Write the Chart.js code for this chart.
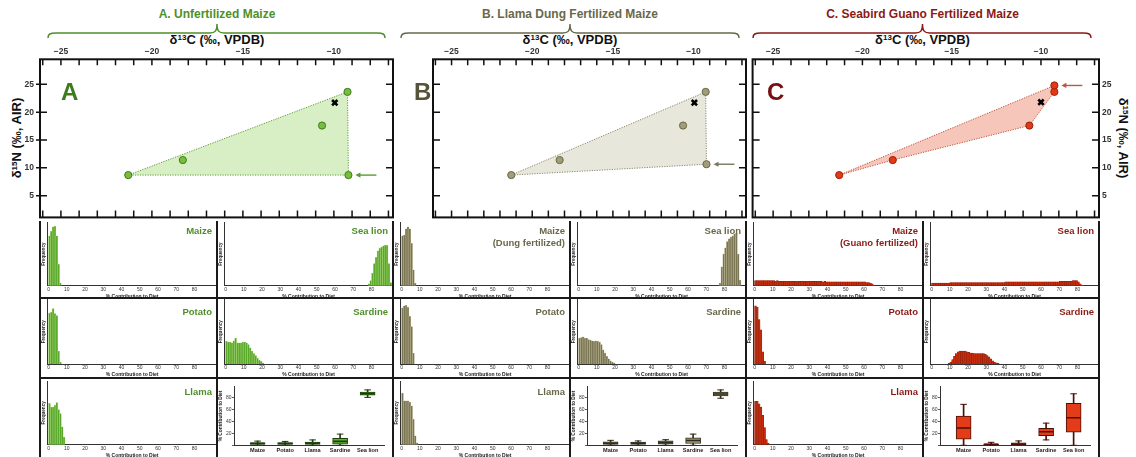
<!DOCTYPE html>
<html lang="en">
<head>
<meta charset="UTF-8">
<title>Mixing models: unfertilized, dung and guano fertilized maize</title>
<script src="https://cdn.jsdelivr.net/npm/chart.js@4.4.1/dist/chart.umd.min.js"></script>
<style>
  body { margin: 0; background: #fff; font-family: "Liberation Sans", Arial, sans-serif; }
  #fig { position: relative; width: 1136px; height: 457px; overflow: hidden; }
  #fig canvas, #fig .t, #fig .rule, #fig svg { position: absolute; }
  .t { white-space: nowrap; font-weight: bold; }
  .hdr { font-size: 12px; line-height: 14px; top: 7px; transform: translateX(-50%); }
  .axt { font-size: 13px; line-height: 14px; top: 33px; transform: translateX(-50%); color: #111; }
  .axt sup, .yt sup { font-size: 8px; vertical-align: 4px; line-height: 0; }
  .yt { font-size: 13px; line-height: 14px; color: #111; }
  .big { font-size: 24px; line-height: 24px; top: 80px; }
  .lab { font-size: 9.5px; line-height: 12px; text-align: right; }
  .rule { background: #1a1a1a; }
</style>
</head>
<body>
<div id="fig"></div>
<script>
// ---- isotope space (top row) ----
// sources in order: Potato, Llama, Sardine, Sea lion (identical in A, B, C)
const sourceNames = ['Potato', 'Llama', 'Sardine', 'Sea lion'];
const sourceD13C = [-21.3, -18.3, -10.65, -9.25];
const sourceD15N = [8.7, 11.4, 17.6, 23.65];
// maize end-member: A unfertilized, B llama dung, C seabird guano
const maizeD13C = [-9.2, -9.2, -9.25];
const maizeD15N = [8.7, 10.65, 24.8];
// consumer (black cross)
const consumerD13C = [-9.95, -9.95, -10.0];
const consumerD15N = [21.7, 21.7, 21.8];
// mixing polygon vertices, index into [Potato, Llama, Sardine, Sea lion, Maize]
const hullA = [0, 3, 4];
const hullB = [0, 3, 4];
const hullC = [0, 4, 3, 2, 1];
const d13CLabels = [-25, -20, -15, -10];

// ---- posterior histograms (1 % bins, relative frequency) ----
const histA_maize = [79, 86, 93, 94, 79, 34, 4];
const histA_potato = [79, 80, 86, 78, 75, 20, 3];
const histA_llama = [65, 59, 59, 62, 66, 55, 49, 28, 12];
const histA_sealion = [3, 8, 20, 35, 45, 55, 59, 61, 63, 64, 64, 35, 5];
const histA_sealionFrom = 78;
const histA_sardine = [35, 34, 34, 33, 36, 40, 33, 33, 33, 34, 34, 33, 30, 25, 20, 16, 13, 9, 6, 4, 2];

const histB_maize = [79, 80, 90, 93, 90, 67, 25, 4];
const histB_potato = [87, 90, 91, 88, 74, 58, 17];
const histB_llama = [81, 69, 69, 69, 67, 61, 40, 14, 3];
const histB_sealion = [4, 30, 50, 60, 70, 74, 77, 79, 82, 83, 50, 9];
const histB_sealionFrom = 77;
const histB_sardine = [40, 41, 42, 40, 40, 38, 37, 36, 35, 36, 35, 34, 30, 22, 17, 12, 8, 5, 3, 2];

const histC_maize = [8, 8, 8, 8, 8, 8, 8, 8, 8, 8, 8, 7, 8, 7, 7, 7, 7, 7, 7, 7,
  7, 7, 7, 7, 7, 7, 7, 7, 7, 7, 7, 7, 7, 7, 7, 7, 7, 6, 7, 6,
  6, 6, 6, 6, 6, 6, 6, 6, 6, 6, 6, 6, 6, 6, 6, 6, 6, 6, 6, 6,
  6, 5, 5, 4, 3, 1];
const histC_potato = [90, 88, 69, 53, 19, 4];
const histC_llama = [68, 68, 64, 59, 46, 27, 8, 2];
const histC_sealion = [4, 4, 4, 4, 4, 4, 4, 4, 4, 4, 5, 5, 5, 5, 5, 5, 5, 5, 5, 5,
  5, 5, 5, 5, 5, 5, 5, 5, 5, 5, 5, 5, 5, 5, 5, 5, 5, 5, 5, 5,
  6, 6, 6, 6, 6, 6, 6, 6, 6, 6, 6, 6, 6, 6, 6, 6, 6, 6, 6, 6,
  6, 6, 6, 6, 6, 6, 6, 6, 6, 6, 7, 7, 7, 7, 7, 7, 7, 8, 8, 8,
  6, 3, 1];
const histC_sealionFrom = 0;
const histC_sardine = [1, 3, 7, 12, 16, 19, 20, 20, 20, 20, 19, 18, 17, 17, 16, 16, 16, 16, 16, 16,
  15, 13, 11, 8, 5, 3, 2, 1];
const histC_sardineFrom = 9;

// ---- box plots (% contribution) ----
const boxCats = ['Maize', 'Potato', 'Llama', 'Sardine', 'Sea lion'];
const boxA_min = [0, 0, 0, 0, 80];
const boxA_q1 = [1.5, 1.5, 1.5, 2, 83.6];
const boxA_med = [3, 3, 3.5, 6.5, 86];
const boxA_q3 = [4.5, 4.5, 5.5, 11.5, 88.9];
const boxA_max = [7, 6.5, 9, 18.7, 92.5];
const boxB_min = [0, 0, 0, 0, 78.5];
const boxB_q1 = [1.5, 1.5, 2, 3, 82.6];
const boxB_med = [3.5, 3.3, 4.5, 8, 85.7];
const boxB_q3 = [5.7, 5.2, 7.3, 12.5, 88.8];
const boxB_max = [8.3, 7.3, 9.4, 18.7, 92.5];
const boxC_min = [0, 0, 0, 9, 0];
const boxC_q1 = [10.4, 0.3, 0.5, 16.2, 22];
const boxC_med = [29, 1.5, 2, 22.5, 46];
const boxC_q3 = [48.6, 2.6, 4, 28.2, 70];
const boxC_max = [68.4, 5, 7.3, 37, 86];

// ---------------------------------------------------------------
const fig = document.getElementById('fig');
Chart.defaults.font.family = '"Liberation Sans", Arial, sans-serif';
Chart.defaults.color = '#222';

const looks = [
  { title: 'A. Unfertilized Maize', letter: 'A', maize: 'Maize', ink: '#4f8f2a', letterInk: '#3f7a1f',
    pt: '#78be3e', ptEdge: '#3f7a1a', fill: 'rgba(190,228,160,0.6)', edge: '#5d9b36', arrow: '#5a9a35',
    bar: '#5aa82a', barEdge: '#a6d777', box: '#5cb82e', boxEdge: '#1d3d0b' },
  { title: 'B. Llama Dung Fertilized Maize', letter: 'B', maize: 'Maize<br>(Dung fertilized)', ink: '#6a684a', letterInk: '#55533a',
    pt: '#a29d76', ptEdge: '#6a6648', fill: 'rgba(222,221,204,0.7)', edge: '#8a876c', arrow: '#7a7660',
    bar: '#7a7552', barEdge: '#bdb896', box: '#9f9a70', boxEdge: '#2e2c1c' },
  { title: 'C. Seabird Guano Fertilized Maize', letter: 'C', maize: 'Maize<br>(Guano fertilized)', ink: '#8a1a14', letterInk: '#761010',
    pt: '#e03a16', ptEdge: '#a01e08', fill: 'rgba(240,160,140,0.6)', edge: '#c0503a', arrow: '#b55a4a',
    bar: '#c72c0c', barEdge: '#8f1a05', box: '#e43c18', boxEdge: '#4a1006' }
];
const hulls = [hullA, hullB, hullC];
const histMaize = [histA_maize, histB_maize, histC_maize];
const histPotato = [histA_potato, histB_potato, histC_potato];
const histLlama = [histA_llama, histB_llama, histC_llama];
const histSealion = [histA_sealion, histB_sealion, histC_sealion];
const sealionFrom = [histA_sealionFrom, histB_sealionFrom, histC_sealionFrom];
const histSardine = [histA_sardine, histB_sardine, histC_sardine];
const sardineFrom = [0, 0, histC_sardineFrom];
const boxStats = [
  [boxA_min, boxA_q1, boxA_med, boxA_q3, boxA_max],
  [boxB_min, boxB_q1, boxB_med, boxB_q3, boxB_max],
  [boxC_min, boxC_q1, boxC_med, boxC_q3, boxC_max]
];

// layout
const panelX = [40, 393, 746, 1099];
const colX = [40, 217, 393, 570, 746, 923, 1099];
const rowTop = [221, 298, 378];
const areaTop = [222.5, 299.5, 381];
const areaBot = [285.7, 364, 444.7];
const labelTop = [225, 305.5, 385.5];

function makeCanvas(x, y, w, h) {
  const c = document.createElement('canvas');
  c.width = w; c.height = h;
  c.style.left = x + 'px'; c.style.top = y + 'px';
  c.style.width = w + 'px'; c.style.height = h + 'px';
  fig.appendChild(c);
  return c;
}
function addText(cls, html, css) {
  const d = document.createElement('div');
  d.className = 't ' + cls;
  d.innerHTML = html;
  Object.assign(d.style, css);
  fig.appendChild(d);
}
function addRule(x, y, w, h) {
  const d = document.createElement('div');
  d.className = 'rule';
  Object.assign(d.style, { left: x + 'px', top: y + 'px', width: w + 'px', height: h + 'px' });
  fig.appendChild(d);
}
// fix an axis to a given thickness and drop the label overflow padding
function fixWidth(w) {
  return s => { s.width = w; s.paddingTop = 0; s.paddingBottom = 0; };
}
function fixHeight(h) {
  return s => { s.height = h; s.paddingLeft = 0; s.paddingRight = 0; };
}

// frame, inward ticks and the arrow on the maize point
function framePlugin(outL, arrowColor) {
  return {
    id: 'frame',
    afterDatasetsDraw(chart) {
      const { ctx, chartArea: a, scales: { x, y } } = chart;
      ctx.save();
      ctx.strokeStyle = '#111';
      ctx.lineWidth = 1.5;
      ctx.beginPath();
      x.ticks.forEach(t => {
        const px = x.getPixelForValue(t.value);
        ctx.moveTo(px, a.top); ctx.lineTo(px, a.top + 6);
        ctx.moveTo(px, a.bottom); ctx.lineTo(px, a.bottom - 7);
      });
      y.ticks.forEach(t => {
        const py = y.getPixelForValue(t.value);
        ctx.moveTo(a.left - outL, py); ctx.lineTo(a.left + 7, py);
        ctx.moveTo(a.right - 7, py); ctx.lineTo(a.right, py);
      });
      ctx.stroke();
      ctx.lineWidth = 2;
      ctx.strokeRect(a.left, a.top, a.right - a.left, a.bottom - a.top);

      const m = chart.getDatasetMeta(1).data[4];
      ctx.strokeStyle = arrowColor;
      ctx.fillStyle = arrowColor;
      ctx.lineWidth = 1.4;
      ctx.beginPath(); ctx.moveTo(m.x + 10, m.y); ctx.lineTo(m.x + 28, m.y); ctx.stroke();
      ctx.beginPath();
      ctx.moveTo(m.x + 7, m.y); ctx.lineTo(m.x + 12, m.y - 2.6); ctx.lineTo(m.x + 12, m.y + 2.6);
      ctx.closePath(); ctx.fill();
      ctx.restore();
    }
  };
}

function scatterChart(k) {
  const look = looks[k];
  const x0 = panelX[k], x1 = panelX[k + 1];
  const cx = k === 0 ? 0 : x0;
  const cw = k === 2 ? 1136 - x0 : x1 + 7 - cx;
  const cv = makeCanvas(cx, 42, cw, 182);

  const pts = sourceD13C.map((c, i) => ({ x: c, y: sourceD15N[i] }));
  pts.push({ x: maizeD13C[k], y: maizeD15N[k] });
  const poly = hulls[k].map(i => pts[i]);
  poly.push(poly[0]);

  const tickFont = { size: 8.5, weight: 'bold' };
  new Chart(cv, {
    type: 'scatter',
    data: {
      datasets: [
        { data: poly, showLine: true, fill: 'shape', backgroundColor: look.fill, borderColor: look.edge,
          borderWidth: 1, borderDash: [1.2, 1.3], pointRadius: 0, tension: 0, order: 3 },
        { data: pts, pointRadius: 3.6, pointBackgroundColor: look.pt, pointBorderColor: look.ptEdge,
          pointBorderWidth: 1, order: 2 },
        { data: [{ x: consumerD13C[k], y: consumerD15N[k] }], pointStyle: 'crossRot', pointRadius: 3.8,
          pointBorderColor: '#000', pointBorderWidth: 2.6, order: 1 }
      ]
    },
    options: {
      responsive: false, animation: false, devicePixelRatio: 1,
      layout: { padding: { left: 0, right: k === 2 ? 0 : 7, top: 0, bottom: 3 } },
      plugins: { legend: { display: false }, tooltip: { enabled: false } },
      scales: {
        x: {
          type: 'linear', position: 'top', min: -26.15, max: -6.75,
          grid: { display: false, drawTicks: false }, border: { display: false },
          ticks: {
            stepSize: 1, includeBounds: false, autoSkip: false, maxRotation: 0, padding: 3,
            font: tickFont, color: '#333',
            callback: v => d13CLabels.includes(v) ? '\u2212' + Math.abs(v) : ''
          },
          afterFit: fixHeight(17.3)
        },
        y: {
          type: 'linear', position: k === 2 ? 'right' : 'left', min: 1.1, max: 29.5,
          display: k !== 1,
          grid: { display: false, drawTicks: false }, border: { display: false },
          ticks: { stepSize: 5, includeBounds: false, padding: k === 2 ? 3 : 6, font: tickFont, color: '#333' },
          afterFit: fixWidth(k === 2 ? 37 : 40)
        }
      }
    },
    plugins: [framePlugin(k === 0 ? 4 : 0, look.arrow)]
  });
}

function histChart(x0, x1, row, values, from, look) {
  const top = rowTop[row] + 1;
  const h = Math.round(areaBot[row]) + 14 - top;
  const cv = makeCanvas(x0, top, x1 - x0, h);
  const axisW = 7.3;
  const span = (x1 - x0 - axisW) / 1.825;
  new Chart(cv, {
    type: 'bar',
    data: {
      datasets: [{
        data: values.map((v, i) => ({ x: from + i + 0.5, y: v })),
        backgroundColor: look.bar, borderColor: look.barEdge, borderWidth: 0.5,
        borderSkipped: 'bottom', barPercentage: 1, categoryPercentage: 1
      }]
    },
    options: {
      responsive: false, animation: false, devicePixelRatio: 1,
      layout: { padding: { top: areaTop[row] - top, right: 0, left: 0, bottom: 0 } },
      plugins: { legend: { display: false }, tooltip: { enabled: false } },
      scales: {
        x: {
          type: 'linear', offset: false, min: -0.7, max: span - 0.7,
          grid: { display: false, drawTicks: false },
          border: { display: true, color: '#333', width: 1 },
          ticks: {
            stepSize: 10, includeBounds: false, autoSkip: false, maxRotation: 0, padding: 1,
            font: { size: 5 }, color: '#333', callback: v => v <= 80 ? v : ''
          },
          title: { display: true, text: '% Contribution to Diet', font: { size: 5, weight: 'bold' },
                   padding: { top: 0.5, bottom: 0 }, color: '#222' },
          afterFit: fixHeight(top + h - areaBot[row])
        },
        y: {
          min: 0, max: 100,
          grid: { display: false, drawTicks: false },
          border: { display: true, color: '#333', width: 1 },
          ticks: { display: false },
          title: { display: true, text: 'Frequency', font: { size: 4.6, weight: 'bold' },
                   padding: { top: 0.8, bottom: 0 }, color: '#222' },
          afterFit: fixWidth(axisW)
        }
      }
    }
  });
}

function boxChart(x0, x1, stats, look) {
  const top = rowTop[2];
  const h = 457 - top;
  const cv = makeCanvas(x0, top, x1 - x0, h);
  const [mn, q1, md, q3, mx] = stats;
  const pt = arr => arr.map((v, i) => ({ x: i, y: v }));
  const rng = (a, b) => a.map((v, i) => ({ x: i, y: [v, b[i]] }));
  new Chart(cv, {
    type: 'bar',
    data: {
      datasets: [
        { type: 'scatter', data: pt(md), showLine: false, pointStyle: 'line', pointRadius: 7,
          pointBorderWidth: 1.6, pointBorderColor: look.boxEdge, order: 0 },
        { data: rng(q1, q3), barThickness: 15, backgroundColor: look.box, borderColor: look.boxEdge,
          borderWidth: 1, borderSkipped: false, grouped: false, order: 1 },
        { data: rng(mn, mx), barThickness: 1, backgroundColor: look.boxEdge, grouped: false, order: 2 },
        { type: 'scatter', data: pt(mn).concat(pt(mx)), showLine: false, pointStyle: 'line', pointRadius: 3.3,
          pointBorderWidth: 1, pointBorderColor: look.boxEdge, order: 2 }
      ]
    },
    options: {
      responsive: false, animation: false, devicePixelRatio: 1,
      layout: { padding: { top: 382.3 - top, right: 6, left: 0, bottom: 0 } },
      plugins: { legend: { display: false }, tooltip: { enabled: false } },
      scales: {
        x: {
          type: 'linear', offset: false, min: -0.84, max: 4.61,
          grid: { display: false, drawTicks: false },
          border: { display: true, color: '#333', width: 1 },
          ticks: {
            stepSize: 1, includeBounds: false, autoSkip: false, maxRotation: 0, padding: 1.5,
            font: { size: 5.6, weight: 'bold' }, color: '#222', callback: v => boxCats[v] ?? ''
          },
          afterFit: fixHeight(457 - 445.3)
        },
        y: {
          min: 0, max: 98,
          grid: { display: true, drawOnChartArea: false, drawTicks: true, tickLength: 2.5, color: '#333', lineWidth: 0.8 },
          border: { display: true, color: '#333', width: 1 },
          ticks: { stepSize: 20, includeBounds: false, padding: 0.5, font: { size: 5 }, color: '#333',
                   callback: v => v ? v : '' },
          title: { display: true, text: '% Contribution to Diet', font: { size: 4.8, weight: 'bold' },
                   padding: { top: 1, bottom: 0 }, color: '#222' },
          afterFit: fixWidth(17.5)
        }
      }
    }
  });
}

// ---- headers, braces, axis titles ----
const svgNS = 'http://www.w3.org/2000/svg';
const svg = document.createElementNS(svgNS, 'svg');
svg.setAttribute('width', 1136); svg.setAttribute('height', 42);
svg.style.left = '0px'; svg.style.top = '0px';
fig.appendChild(svg);
const braces = [[48, 217, 385], [401, 570, 739], [753, 922.5, 1091]];
braces.forEach(([a, m, b], k) => {
  const p = document.createElementNS(svgNS, 'path');
  const y = 33;
  p.setAttribute('d', `M${a},38 C${a},34 ${a + 2},${y} ${a + 8},${y} L${m - 7},${y} C${m - 2},${y} ${m},${y - 2} ${m},${y - 9}` +
    ` C${m},${y - 2} ${m + 2},${y} ${m + 7},${y} L${b - 8},${y} C${b - 2},${y} ${b},34 ${b},38`);
  p.setAttribute('fill', 'none');
  p.setAttribute('stroke', looks[k].ink);
  p.setAttribute('stroke-width', '1.5');
  svg.appendChild(p);
  addText('hdr', looks[k].title, { left: m + 'px', color: looks[k].ink });
  addText('axt', '\u03b4<sup>13</sup>C (\u2030, VPDB)', { left: m + 'px' });
});
addText('yt', '\u03b4<sup>15</sup>N (\u2030, AIR)', { left: '17px', top: '138px', transform: 'translate(-50%,-50%) rotate(-90deg)' });
addText('yt', '\u03b4<sup>15</sup>N (\u2030, AIR)', { left: '1123px', top: '138px', transform: 'translate(-50%,-50%) rotate(90deg)' });

// ---- charts ----
for (let k = 0; k < 3; k++) {
  const look = looks[k];
  scatterChart(k);
  addText('big', look.letter, { left: (panelX[k] + 21) + 'px', color: look.letterInk });

  const L0 = colX[2 * k], L1 = colX[2 * k + 1], R1 = colX[2 * k + 2];
  histChart(L0, L1, 0, histMaize[k], 0, look);
  histChart(L0, L1, 1, histPotato[k], 0, look);
  histChart(L0, L1, 2, histLlama[k], 0, look);
  histChart(L1, R1, 0, histSealion[k], sealionFrom[k], look);
  histChart(L1, R1, 1, histSardine[k], sardineFrom[k], look);
  boxChart(L1, R1, boxStats[k], look);

  const cellLabels = [[look.maize, 'Sea lion'], ['Potato', 'Sardine'], ['Llama', null]];
  cellLabels.forEach((pair, r) => {
    pair.forEach((txt, c) => {
      if (!txt) return;
      const right = c === 0 ? L1 : R1;
      addText('lab', txt, { right: (1136 - right + 5) + 'px', top: labelTop[r] + 'px', color: look.ink });
    });
  });
}

// ---- grid rules of the lower block ----
[40, 393, 746, 1099].forEach(x => addRule(x - 1, 221, 2, 236));
[217, 570, 923].forEach(x => addRule(x - 0.75, 221, 1.5, 236));
[298, 378].forEach(y => addRule(40, y - 0.6, 1059, 1.2));
</script>
</body>
</html>
